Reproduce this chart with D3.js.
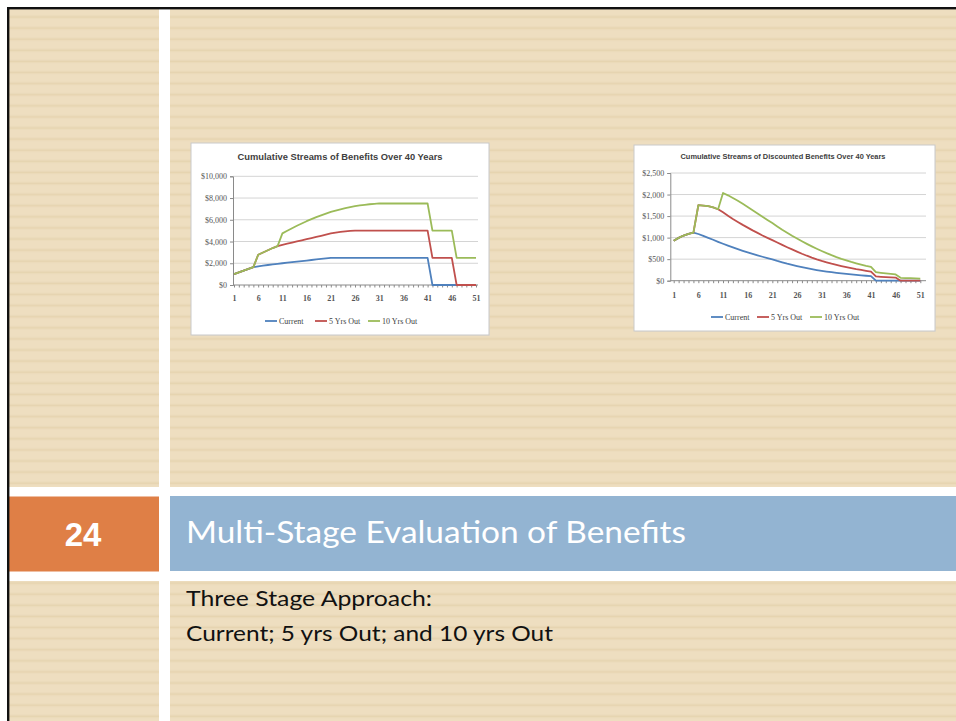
<!DOCTYPE html>
<html><head><meta charset="utf-8">
<script src="https://cdn.jsdelivr.net/npm/d3@7"></script>
<style>html,body{margin:0;padding:0;background:#fff;overflow:hidden}</style>
</head><body>
<svg id="slide" width="956" height="721"></svg>
<script>
// ---------- DATA ----------
const years = [1,2,3,4,5,6,7,8,9,10,11,12,13,14,15,16,17,18,19,20,21,22,23,24,25,26,27,28,29,30,31,32,33,34,35,36,37,38,39,40,41,42,43,44,45,46,47,48,49,50,51];
const xTickLabels = [1,6,11,16,21,26,31,36,41,46,51];
const seriesNames = ["Current","5 Yrs Out","10 Yrs Out"];

const chart1Title = "Cumulative Streams of Benefits Over 40 Years";
const chart1YTicks = [0,2000,4000,6000,8000,10000];
const cumCurrent = [1000,1160,1320,1480,1640,1720,1780,1840,1900,1950,2000,2050,2100,2150,2200,2250,2300,2350,2400,2450,2500,2500,2500,2500,2500,2500,2500,2500,2500,2500,2500,2500,2500,2500,2500,2500,2500,2500,2500,2500,2500,0,0,0,0,0,0,0,0,0,0];
const cum5Yrs = [1000,1160,1320,1480,1640,2780,2990,3200,3400,3580,3700,3800,3900,4010,4110,4220,4320,4430,4530,4640,4740,4820,4880,4930,4970,5000,5000,5000,5000,5000,5000,5000,5000,5000,5000,5000,5000,5000,5000,5000,5000,2500,2500,2500,2500,2500,0,0,0,0,0];
const cum10Yrs = [1000,1160,1320,1480,1640,2780,2990,3200,3400,3580,4750,4990,5220,5450,5660,5870,6060,6240,6410,6570,6730,6850,6960,7070,7160,7250,7320,7380,7430,7470,7500,7500,7500,7500,7500,7500,7500,7500,7500,7500,7500,5000,5000,5000,5000,5000,2500,2500,2500,2500,2500];

const chart2Title = "Cumulative Streams of Discounted Benefits Over 40 Years";
const chart2YTicks = [0,500,1000,1500,2000,2500];
const disCurrent = [926,994,1048,1088,1116,1084,1039,994,950,903,858,814,772,732,694,657,622,588,556,526,497,460,426,394,365,338,313,290,268,248,230,213,197,183,169,157,145,134,124,115,107,0,0,0,0,0,0,0,0,0,0];
const dis5Yrs = [926,994,1048,1088,1116,1752,1745,1729,1701,1658,1587,1509,1434,1365,1296,1232,1168,1109,1050,995,942,887,831,777,726,676,626,580,537,497,460,426,394,365,338,313,290,268,249,230,213,99,91,85,78,73,0,0,0,0,0];
const dis10Yrs = [926,994,1048,1088,1116,1752,1745,1729,1701,1658,2037,1982,1919,1855,1784,1713,1638,1562,1485,1410,1337,1260,1185,1115,1045,980,916,855,797,742,690,639,592,548,507,470,435,403,373,345,320,197,183,169,157,145,67,62,58,53,49];

const slideNumber = "24";
const slideTitle = "Multi-Stage Evaluation of Benefits";
const bodyLines = ["Three Stage Approach:", "Current; 5 yrs Out; and 10 yrs Out"];

// ---------- STYLE ----------
const seriesColors = ["#4F81BD","#C0504D","#9BBB59"];
const svg = d3.select("#slide");
const defs = svg.append("defs");
const pat = defs.append("pattern").attr("id","paper").attr("patternUnits","userSpaceOnUse")
  .attr("width",20).attr("height",11.1);
pat.append("rect").attr("width",20).attr("height",11.1).attr("fill","#EEDEC0");
pat.append("rect").attr("y",4.2).attr("width",20).attr("height",1).attr("fill","#EBDAB9");
pat.append("rect").attr("y",5.2).attr("width",20).attr("height",1.3).attr("fill","#E6D4B0");
pat.append("rect").attr("y",6.5).attr("width",20).attr("height",1).attr("fill","#EBDAB9");

svg.append("rect").attr("width",956).attr("height",721).attr("fill","#ffffff");
const panels = [
  {x:9,y:9,w:150,h:478},{x:170,y:9,w:786,h:478},
  {x:9,y:581,w:150,h:140},{x:170,y:581,w:786,h:140}
];
svg.selectAll("rect.panel").data(panels).enter().append("rect").attr("class","panel")
  .attr("x",d=>d.x).attr("y",d=>d.y).attr("width",d=>d.w).attr("height",d=>d.h).attr("fill","url(#paper)");
svg.append("rect").attr("x",9).attr("y",496.5).attr("width",150).attr("height",75).attr("fill","#DF7F46");
svg.append("rect").attr("x",170).attr("y",496).attr("width",786).attr("height",75).attr("fill","#93B4D2");
svg.append("rect").attr("x",7).attr("y",7).attr("width",949).attr("height",2.4).attr("fill","#111");
svg.append("rect").attr("x",7).attr("y",7).attr("width",2.4).attr("height",714).attr("fill","#111");

svg.append("text").attr("x",83).attr("y",546).attr("text-anchor","middle")
  .attr("font-family","Liberation Sans, Arial, sans-serif").attr("font-weight","bold")
  .attr("font-size",33).attr("fill","#fff").text(slideNumber);
svg.append("text").attr("x",186).attr("y",543).attr("font-family","Lato, sans-serif")
  .attr("font-size",30).attr("fill","#fff").attr("textLength",500).attr("lengthAdjust","spacingAndGlyphs")
  .text(slideTitle);
svg.selectAll("text.body").data(bodyLines).enter().append("text").attr("class","body")
  .attr("x",186).attr("y",(d,i)=>606+i*35).attr("font-family","Lato, sans-serif")
  .attr("font-size",21).attr("fill","#111")
  .attr("textLength",(d,i)=>i===0?246:367).attr("lengthAdjust","spacingAndGlyphs")
  .text(d=>d);

// ---------- CHART ----------
function drawChart(cfg){
  const g = svg.append("g");
  g.append("rect").attr("x",cfg.box[0]+1).attr("y",cfg.box[1]+1).attr("width",cfg.box[2]).attr("height",cfg.box[3])
    .attr("fill","#e3d9c6").attr("opacity",0.6);
  g.append("rect").attr("x",cfg.box[0]).attr("y",cfg.box[1]).attr("width",cfg.box[2]).attr("height",cfg.box[3])
    .attr("fill","#fff").attr("stroke","#c9c9c9").attr("stroke-width",1);
  g.append("text").attr("x",cfg.titleX).attr("y",cfg.titleY).attr("text-anchor","middle")
    .attr("font-family","Liberation Sans, Arial, sans-serif").attr("font-weight","bold")
    .attr("font-size",cfg.titleSize).attr("fill","#404040")
    .attr("textLength",cfg.titleLen).attr("lengthAdjust","spacingAndGlyphs").text(cfg.title);
  const x = d3.scaleLinear().domain([1,51]).range(cfg.xRange);
  const y = d3.scaleLinear().domain([0,cfg.yTicks[cfg.yTicks.length-1]]).range(cfg.yRange);
  g.selectAll("line.grid").data(cfg.yTicks.slice(1)).enter().append("line")
    .attr("x1",cfg.plotX[0]).attr("x2",cfg.plotX[1]).attr("y1",d=>y(d)).attr("y2",d=>y(d))
    .attr("stroke","#d4d4d4").attr("stroke-width",1);
  const ya = g.append("g").attr("transform",`translate(${cfg.plotX[0]},0)`)
    .call(d3.axisLeft(y).tickValues(cfg.yTicks).tickFormat(d3.format("$,.0f")).tickSize(3).tickPadding(3));
  ya.select(".domain").attr("stroke","#8a8a8a");
  ya.selectAll(".tick line").attr("stroke","#8a8a8a");
  ya.selectAll("text").attr("font-family","Liberation Serif, serif").attr("font-size",cfg.tickSize).attr("fill","#555");
  const xa = g.append("g").attr("transform",`translate(0,${cfg.yRange[0]})`)
    .call(d3.axisBottom(x).tickValues(years).tickFormat(d=>xTickLabels.includes(d)?d:"").tickSize(2.5).tickPadding(cfg.xPad));
  xa.select(".domain").attr("d",`M${cfg.plotX[0]},0H${cfg.plotX[1]}`).attr("stroke","#8a8a8a");
  xa.selectAll(".tick line").attr("stroke","#8a8a8a");
  xa.selectAll("text").attr("font-family","Liberation Serif, serif").attr("font-weight","bold").attr("font-size",cfg.tickSize).attr("fill","#555");
  const line = d3.line().x((d,i)=>x(years[i])).y(d=>y(d));
  g.selectAll("path.series").data(cfg.series).enter().append("path").attr("class","series")
    .attr("d",d=>line(d)).attr("fill","none").attr("stroke",(d,i)=>seriesColors[i])
    .attr("stroke-width",1.8).attr("stroke-linejoin","round");
  const lg = g.selectAll("g.leg").data(seriesNames).enter().append("g").attr("class","leg")
    .attr("transform",(d,i)=>`translate(${cfg.legendX[i]},${cfg.legendY})`);
  lg.append("line").attr("x1",0).attr("x2",12).attr("stroke",(d,i)=>seriesColors[i]).attr("stroke-width",1.8);
  lg.append("text").attr("x",14).attr("y",2.6).attr("font-family","Liberation Serif, serif")
    .attr("font-size",cfg.legendSize).attr("fill","#404040").text(d=>d);
}

drawChart({
  box:[191,143,298,192], title:chart1Title, titleX:340, titleY:160, titleSize:9, titleLen:205,
  xRange:[234,476], plotX:[233,478], yRange:[285,176.3], yTicks:chart1YTicks, tickSize:8, xPad:8,
  series:[cumCurrent,cum5Yrs,cum10Yrs], legendX:[265,315,368], legendY:321, legendSize:8
});
drawChart({
  box:[634,145,301,186], title:chart2Title, titleX:783, titleY:159, titleSize:7, titleLen:205,
  xRange:[673.7,920.3], plotX:[670.3,926], yRange:[280.7,173], yTicks:chart2YTicks, tickSize:8, xPad:9,
  series:[disCurrent,dis5Yrs,dis10Yrs], legendX:[711,757,810], legendY:317, legendSize:8
});
</script>
</body></html>
